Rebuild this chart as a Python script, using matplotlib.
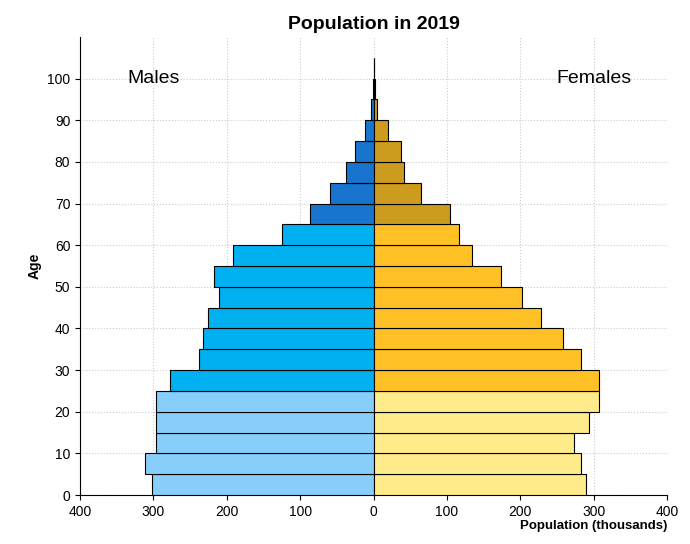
import matplotlib
matplotlib.use("Agg")
import matplotlib.pyplot as plt
import numpy as np

plt.rcParams['font.family'] = ['Liberation Sans', 'DejaVu Sans']

ages = list(range(0, 105, 5))
males = [302, 311, 297, 297, 297, 277, 238, 232, 225, 210, 217, 191, 125, 87, 60, 38, 26, 12, 3, 0.7, 0.1]
females = [289, 282, 273, 294, 307, 307, 283, 258, 228, 202, 173, 134, 116, 104, 64, 42, 37, 19, 5, 1.5, 0.2]

def mcol(a):
    return "#87CEFA" if a < 25 else ("#00B0F0" if a < 65 else "#1874CD")
def fcol(a):
    return "#FFEB8A" if a < 25 else ("#FFC125" if a < 65 else "#CD9B1D")

fig, ax = plt.subplots(figsize=(6.9, 5.44), dpi=100)
fig.subplots_adjust(left=0.116, right=0.967, bottom=0.09, top=0.932)
ax.barh(ages, [-m for m in males], height=5, align="edge", color=[mcol(a) for a in ages],
        edgecolor="black", linewidth=0.8, zorder=3)
ax.barh(ages, females, height=5, align="edge", color=[fcol(a) for a in ages],
        edgecolor="black", linewidth=0.8, zorder=3)
ax.set_xlim(-400, 400)
ax.set_ylim(0, 110)
ax.set_xticks(range(-400, 401, 100))
ax.set_xticklabels([str(abs(v)) for v in range(-400, 401, 100)])
ax.set_yticks(range(0, 101, 10))
ax.grid(True, linestyle=":", color="#cccccc", zorder=0)
for s in ["top", "right"]:
    ax.spines[s].set_visible(False)
ax.tick_params(labelsize=10)
ax.set_title("Population in 2019", fontsize=14, fontweight="bold")
ax.set_ylabel("Age", fontweight="bold", fontsize=10)
ax.set_xlabel("Population (thousands)", fontweight="bold", fontsize=9.5, loc="right", labelpad=1)
ax.text(-300, 100, "Males", fontsize=14, ha="center", va="center")
ax.text(300, 100, "Females", fontsize=14, ha="center", va="center")
fig.savefig("out.png")
